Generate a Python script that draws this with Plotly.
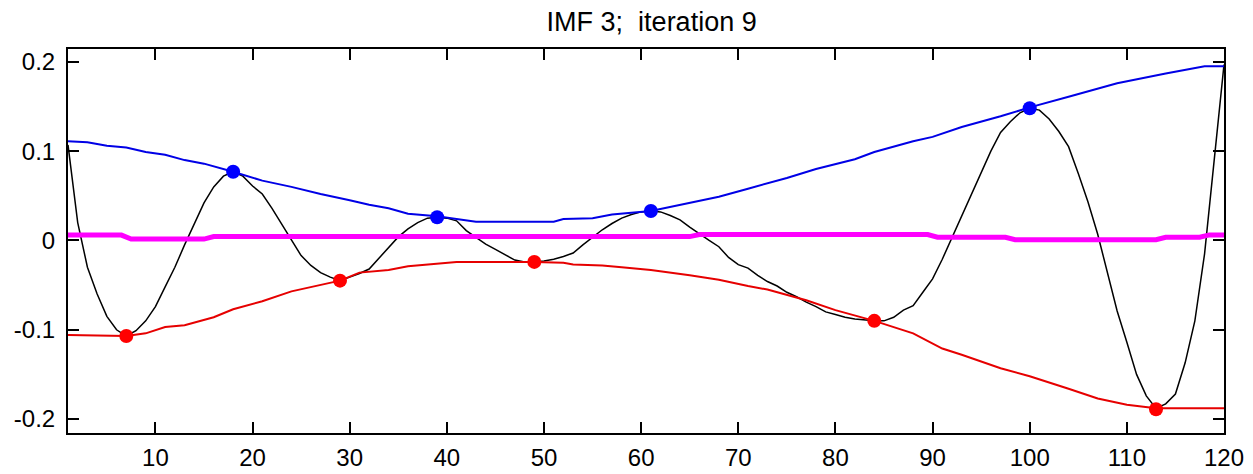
import plotly.graph_objects as go

# ---- data ----
sig_x = list(range(1, 121))
sig_y = [
    0.107, 0.020, -0.030, -0.060, -0.085, -0.100, -0.107, -0.101, -0.090, -0.074,
    -0.052, -0.030, -0.005, 0.019, 0.042, 0.060, 0.072, 0.077, 0.072, 0.061,
    0.052, 0.036, 0.018, 0.000, -0.017, -0.028, -0.036, -0.041, -0.045, -0.041,
    -0.037, -0.032, -0.020, -0.007, 0.004, 0.013, 0.020, 0.025, 0.026, 0.025,
    0.022, 0.011, 0.003, -0.004, -0.010, -0.016, -0.022, -0.024, -0.024, -0.023,
    -0.021, -0.018, -0.014, -0.005, 0.004, 0.012, 0.019, 0.025, 0.029, 0.032,
    0.033, 0.032, 0.028, 0.023, 0.015, 0.007, 0.000, -0.007, -0.019, -0.027,
    -0.031, -0.039, -0.046, -0.051, -0.058, -0.063, -0.069, -0.074, -0.080, -0.083,
    -0.086, -0.088, -0.089, -0.090, -0.090, -0.086, -0.078, -0.073, -0.058, -0.043,
    -0.021, 0.003, 0.028, 0.052, 0.077, 0.100, 0.121, 0.133, 0.143, 0.148,
    0.146, 0.136, 0.122, 0.105, 0.075, 0.043, 0.007, -0.037, -0.079, -0.114,
    -0.150, -0.174, -0.188, -0.183, -0.172, -0.137, -0.090, -0.015, 0.095, 0.197,
]

upper_x = [1, 3, 5, 7, 9, 11, 13, 15, 18, 21, 24, 27, 30, 32, 34, 36, 39, 41, 43,
           51, 52, 55, 57, 61, 65, 68, 71, 75, 78, 82, 84, 88, 90, 93, 97, 100,
           104, 109, 114, 118, 120]
upper_y = [0.111, 0.110, 0.106, 0.104, 0.099, 0.096, 0.090, 0.086, 0.077, 0.067,
           0.060, 0.052, 0.045, 0.040, 0.036, 0.030, 0.027, 0.024, 0.021,
           0.021, 0.024, 0.025, 0.029, 0.033, 0.042, 0.049, 0.058, 0.070, 0.080,
           0.091, 0.099, 0.111, 0.116, 0.127, 0.139, 0.149, 0.161, 0.176, 0.187,
           0.195, 0.195]

lower_x = [1, 7, 9, 11, 13, 16, 18, 21, 24, 27, 29, 31, 34, 36, 38, 41, 49, 52, 53,
           56, 58, 61, 65, 68, 71, 73, 77, 80, 84, 88, 91, 93, 97, 100, 104, 107,
           110, 113, 120]
lower_y = [-0.106, -0.107, -0.104, -0.097, -0.095, -0.086, -0.077, -0.068, -0.057,
           -0.050, -0.045, -0.036, -0.033, -0.029, -0.027, -0.024, -0.024, -0.025,
           -0.027, -0.028, -0.030, -0.033, -0.039, -0.044, -0.051, -0.055, -0.067,
           -0.078, -0.090, -0.104, -0.121, -0.128, -0.143, -0.152, -0.166, -0.177,
           -0.184, -0.188, -0.188]

mean_x = [1, 6.5, 7.5, 15, 16, 65, 66, 89.5, 90.5, 97.5, 98.5, 113, 114, 117.5, 118.5, 120]
mean_y = [0.0060, 0.0060, 0.0015, 0.0015, 0.0043, 0.0043, 0.0066, 0.0066, 0.0036,
          0.0036, 0.0008, 0.0008, 0.0036, 0.0036, 0.0062, 0.0062]

max_x = [18, 39, 61, 100]
max_y = [0.077, 0.026, 0.033, 0.148]
min_x = [7, 29, 49, 84, 113]
min_y = [-0.107, -0.045, -0.024, -0.090, -0.189]

title_text = "IMF 3;  iteration 9"
x_ticks = [10, 20, 30, 40, 50, 60, 70, 80, 90, 100, 110, 120]
y_ticks = [-0.2, -0.1, 0, 0.1, 0.2]
y_tick_text = ["-0.2", "-0.1", "0", "0.1", "0.2"]

FONT = "Liberation Sans, Arial, sans-serif"

fig = go.Figure()
fig.add_trace(go.Scatter(x=sig_x, y=sig_y, mode="lines",
                         line=dict(color="#000000", width=1.5), hoverinfo="skip"))
fig.add_trace(go.Scatter(x=upper_x, y=upper_y, mode="lines",
                         line=dict(color="#0000e6", width=2), hoverinfo="skip"))
fig.add_trace(go.Scatter(x=lower_x, y=lower_y, mode="lines",
                         line=dict(color="#e60000", width=2), hoverinfo="skip"))
fig.add_trace(go.Scatter(x=mean_x, y=mean_y, mode="lines",
                         line=dict(color="#ff00ff", width=5), hoverinfo="skip"))
fig.add_trace(go.Scatter(x=max_x, y=max_y, mode="markers",
                         marker=dict(color="#0000ff", size=14, line=dict(width=0))))
fig.add_trace(go.Scatter(x=min_x, y=min_y, mode="markers",
                         marker=dict(color="#ff0000", size=14, line=dict(width=0))))

axis_common = dict(
    showgrid=False, zeroline=False, showline=True, linecolor="#000000", linewidth=2,
    mirror="ticks", ticks="inside", ticklen=11, tickwidth=2, tickcolor="#000000",
    tickfont=dict(family=FONT, size=24, color="#000000"), automargin=False,
)

# the page body adds an 8px offset, so the figure is 8px smaller than the window
fig.update_layout(
    width=1245, height=466,
    margin=dict(l=60, r=29, t=41, b=41, autoexpand=False),
    paper_bgcolor="#ffffff", plot_bgcolor="#ffffff",
    showlegend=False,
    title=dict(text=title_text, x=0.517, xanchor="center", y=0.970, yanchor="middle",
               font=dict(family=FONT, size=27, color="#000000"), automargin=False),
    xaxis=dict(range=[1, 120], tickvals=x_ticks, ticklabelstandoff=2, **axis_common),
    yaxis=dict(range=[-0.2156, 0.2144], tickvals=y_ticks, ticktext=y_tick_text,
               ticklabelstandoff=6, **axis_common),
)

fig.write_html("out.html")
